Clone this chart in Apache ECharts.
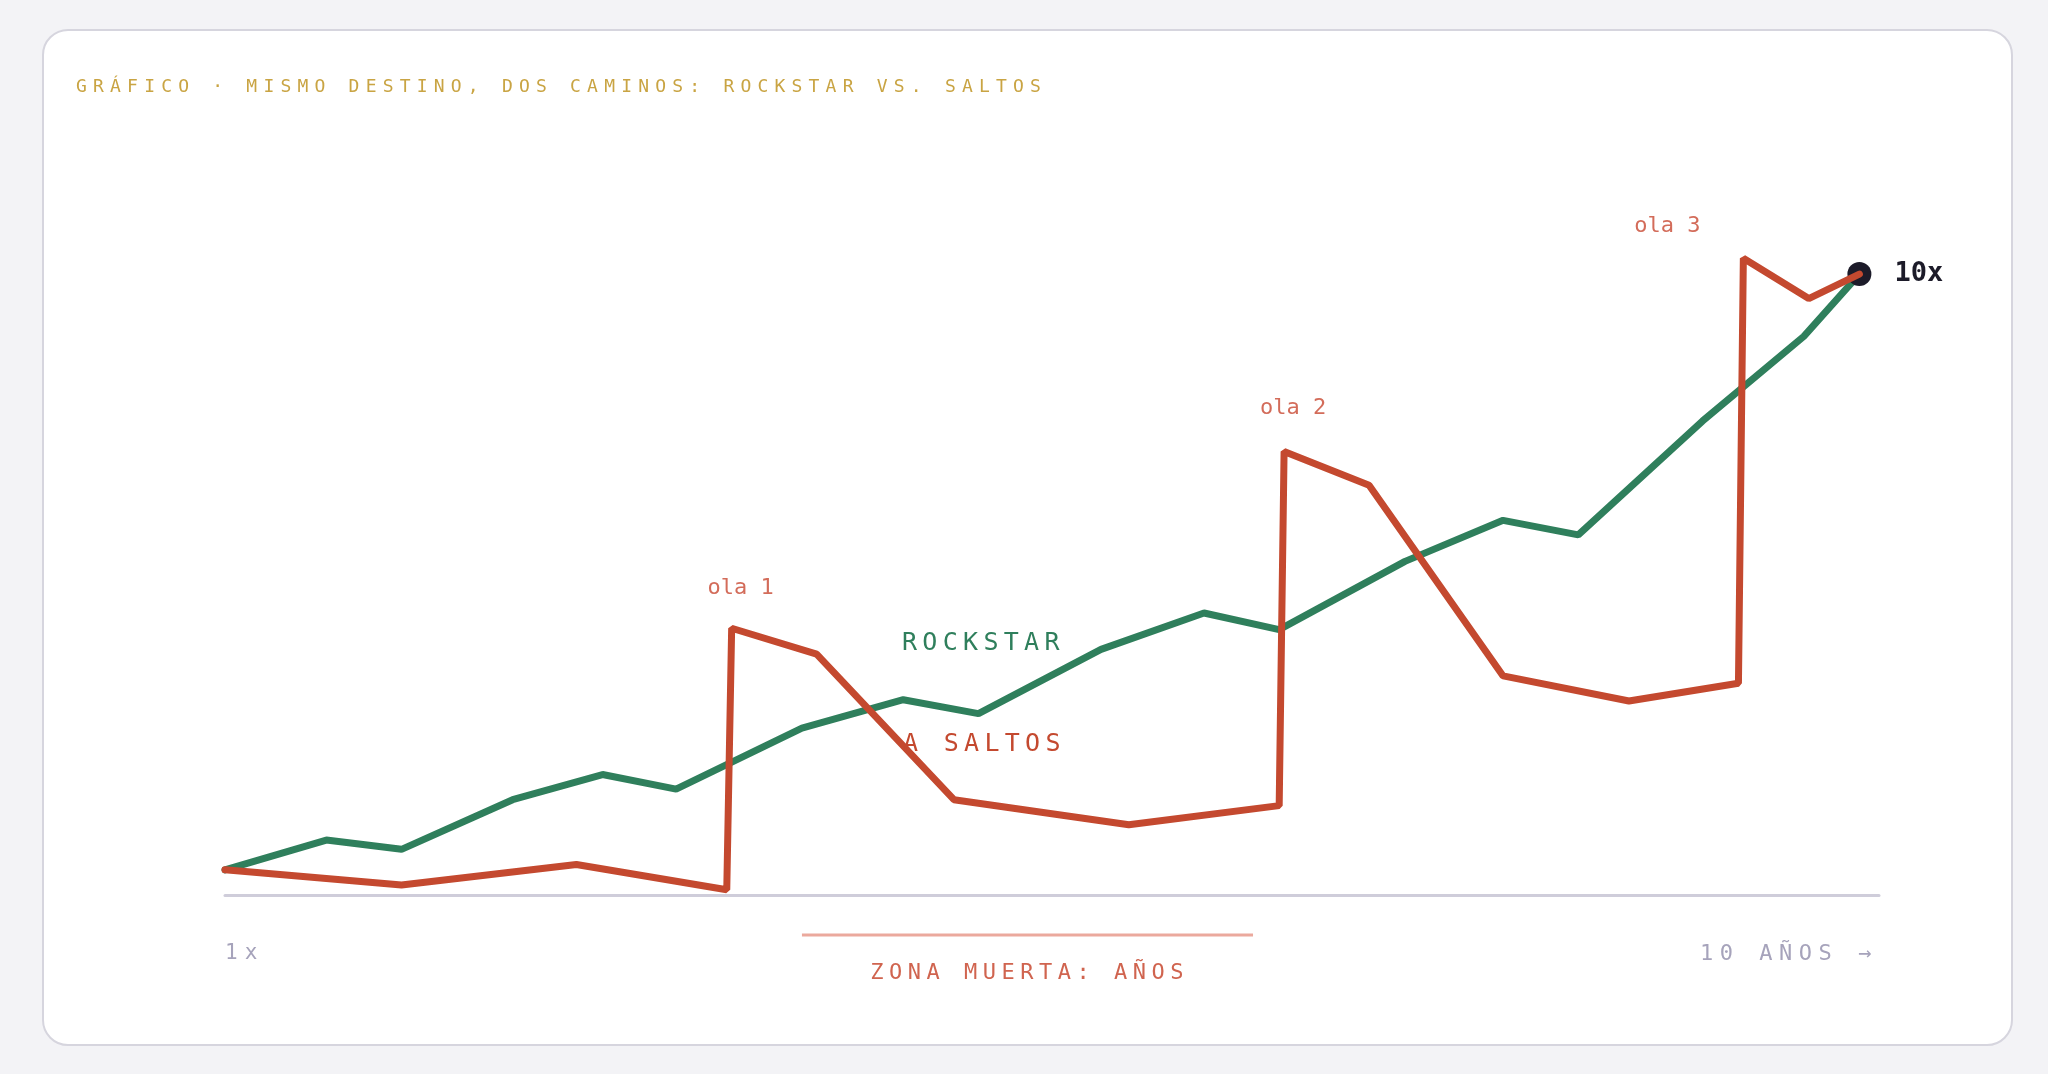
<!DOCTYPE html>
<html>
<head>
<meta charset="utf-8">
<script src="https://cdn.jsdelivr.net/npm/echarts@6/dist/echarts.min.js"></script>
<style>
  html, body { margin: 0; padding: 0; background: #f3f3f6; }
  body { width: 2048px; height: 1074px; position: relative; overflow: hidden; }
  .card {
    position: absolute; left: 42px; top: 29px; width: 1971px; height: 1017px;
    box-sizing: border-box; background: #fff; border: 2px solid #d6d5de; border-radius: 26px;
  }
  #chart { position: absolute; left: 0; top: 0; width: 2048px; height: 1074px; }
  .tag {
    position: absolute; white-space: nowrap; pointer-events: none;
    font-family: "DejaVu Sans Mono", monospace; line-height: 1;
  }
</style>
</head>
<body>
<div class="card"></div>
<div id="chart"></div>
<script>
// años (eje x) y multiplicador (eje y)
var rockX = [0, 0.62, 1.08, 1.76, 2.31, 2.76, 3.53, 4.15, 4.61, 5.36, 5.99, 6.45, 7.22, 7.82, 8.28, 9.04, 9.66, 10];
var rockY = [1, 1.45, 1.31, 2.06, 2.44, 2.22, 3.14, 3.57, 3.36, 4.33, 4.88, 4.63, 5.66, 6.28, 6.06, 7.78, 9.06, 10];
var saltX = [0, 1.08, 2.15, 3.07, 3.10, 3.62, 4.46, 5.53, 6.45, 6.48, 7.00, 7.82, 8.59, 9.26, 9.29, 9.69, 10];
var saltY = [1, 0.77, 1.08, 0.70, 4.65, 4.26, 2.06, 1.68, 1.97, 7.32, 6.81, 3.93, 3.55, 3.82, 10.24, 9.63, 10];
var waveNames = ['ola 1', 'ola 2', 'ola 3'];
var waveIdx = [4, 9, 14];
var deadZone = [3.53, 6.29];
var endPoint = [10, 10];
var endText = '10x';
var Y_MIN = 0.62;

var GREEN = '#2f7f5c', RED = '#c4492f';

function pairs(xs, ys) {
    return xs.map(function (x, i) { return [x, ys[i]]; });
}

var waveOffsets = [[9, -40], [9, -43], [-76, -32]];

(function () {
    var mycharts = echarts.init(document.getElementById('chart'), null, { width: 2048, height: 1074 });
    var option = {
        animation: false,
        grid: { left: 225, right: 169, top: 241, bottom: 179 },
        xAxis: {
            type: 'value', min: 0, max: 10.12,
            axisLine: { show: true, lineStyle: { color: '#cfcdda', width: 3 } },
            axisTick: { show: false },
            axisLabel: { show: false },
            splitLine: { show: false }
        },
        yAxis: {
            type: 'value', min: Y_MIN, max: 10.5,
            show: false,
            splitLine: { show: false }
        },
        series: [
            {
                name: 'Rockstar',
                type: 'line',
                z: 2,
                data: pairs(rockX, rockY),
                showSymbol: false,
                silent: true,
                lineStyle: { color: GREEN, width: 7, cap: 'round' }
            },
            {
                name: 'fin',
                type: 'scatter',
                z: 3,
                data: [endPoint],
                symbolSize: 24,
                silent: true,
                itemStyle: { color: '#1c1b29', opacity: 1 },
                label: {
                    show: true, position: 'right', distance: 23,
                    formatter: endText,
                    fontFamily: 'DejaVu Sans Mono', fontWeight: 'bold', fontSize: 27, color: '#1c1b29'
                }
            },
            {
                name: 'A saltos',
                type: 'line',
                z: 4,
                data: pairs(saltX, saltY),
                showSymbol: false,
                silent: true,
                lineStyle: { color: RED, width: 7, cap: 'round' },
                markPoint: {
                    silent: true,
                    symbol: 'circle',
                    symbolSize: 1,
                    itemStyle: { color: 'rgba(0,0,0,0)' },
                    label: {
                        show: true, position: 'inside',
                        fontFamily: 'DejaVu Sans Mono', fontSize: 22, color: '#d36c5a',
                        formatter: function (p) { return p.name; }
                    },
                    data: waveIdx.map(function (idx, i) {
                        return {
                            name: waveNames[i],
                            coord: [saltX[idx], saltY[idx]],
                            label: { offset: waveOffsets[i] }
                        };
                    })
                }
            }
        ]
    };
    mycharts.setOption(option);

    // zona muerta: linea bajo el eje, convertida con la escala del grafico
    var a = mycharts.convertToPixel({ gridIndex: 0 }, [deadZone[0], Y_MIN]);
    var b = mycharts.convertToPixel({ gridIndex: 0 }, [deadZone[1], Y_MIN]);
    mycharts.setOption({
        graphic: [{
            type: 'line', silent: true,
            shape: { x1: a[0], y1: a[1] + 40, x2: b[0], y2: b[1] + 40 },
            style: { stroke: '#eba99d', lineWidth: 3 }
        }]
    });
})();

// textos con espaciado de letras
var tags = [
    { text: 'GRÁFICO · MISMO DESTINO, DOS CAMINOS: ROCKSTAR VS. SALTOS', x: 76, cy: 86, size: 18, ls: 6.2, color: '#c9a443' },
    { text: 'ROCKSTAR', x: 902, cy: 641, size: 25, ls: 5.3, color: GREEN },
    { text: 'A SALTOS', x: 903, cy: 742, size: 25, ls: 5.3, color: RED },
    { text: '1x', x: 225, cy: 952, size: 21, ls: 7, color: '#a6a3bb' },
    { text: '10 AÑOS →', x: 1700, cy: 953, size: 22, ls: 6.5, color: '#a6a3bb' },
    { text: 'ZONA MUERTA: AÑOS', cx: 1027, cy: 972, size: 22, ls: 5.5, color: '#d0644f' }
];
tags.forEach(function (t) {
    var d = document.createElement('div');
    d.className = 'tag';
    d.textContent = t.text;
    d.style.fontSize = t.size + 'px';
    d.style.letterSpacing = t.ls + 'px';
    d.style.color = t.color;
    d.style.top = (t.cy - 0.48 * t.size) + 'px';
    document.body.appendChild(d);
    if (t.cx !== undefined) {
        d.style.left = (t.cx - (d.offsetWidth - t.ls) / 2) + 'px';
    } else {
        d.style.left = t.x + 'px';
    }
});
</script>
</body>
</html>
